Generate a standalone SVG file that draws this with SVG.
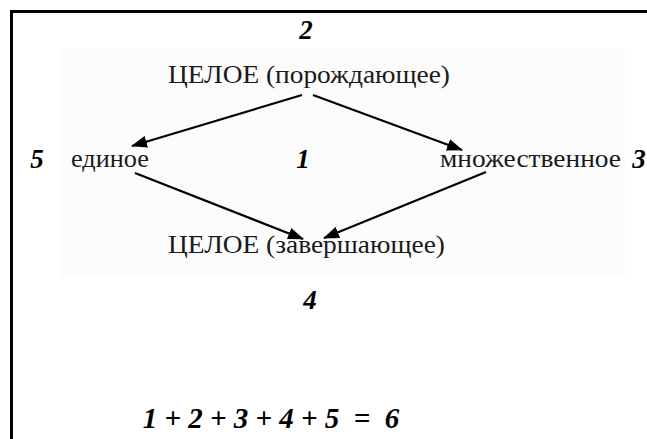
<svg xmlns="http://www.w3.org/2000/svg" width="647" height="439" viewBox="0 0 647 439">
<defs>
<marker id="ah" markerWidth="16" markerHeight="12" refX="15" refY="6" orient="auto" markerUnits="userSpaceOnUse"><path d="M0,0 L16,6 L0,12 Z" fill="#000"/></marker>
<style>
.lbl{font-family:"Liberation Serif",serif;font-size:25px;fill:#1a1a1a}
.num{font-family:"Liberation Serif",serif;font-size:27px;font-weight:bold;font-style:italic;fill:#000}
.eq{font-family:"Liberation Serif",serif;font-size:29px;font-weight:bold;font-style:italic;fill:#000}
.c{stroke:#000;stroke-width:2.2;fill:none;marker-end:url(#ah)}
</style>
</defs>
<rect width="647" height="439" fill="#fff"/>
<rect x="60" y="48" width="565" height="230" fill="#fcfcfc"/>
<path d="M11.5,439 V11.5 H647" stroke="#000" stroke-width="3" fill="none"/>
<g id="n2"><text class="num" x="306" y="39" text-anchor="middle">2</text></g>
<g id="top"><text class="lbl" x="168" y="83" textLength="282" lengthAdjust="spacingAndGlyphs">ЦЕЛОЕ (порождающее)</text></g>
<g id="n5"><text class="num" x="37" y="168" text-anchor="middle">5</text></g>
<g id="left"><text class="lbl" x="71" y="167" textLength="78" lengthAdjust="spacingAndGlyphs">единое</text></g>
<g id="n1"><text class="num" x="303" y="168" text-anchor="middle">1</text></g>
<g id="right"><text class="lbl" x="440" y="167" textLength="181" lengthAdjust="spacingAndGlyphs">множественное</text></g>
<g id="n3"><text class="num" x="639" y="168" text-anchor="middle">3</text></g>
<g id="bottom"><text class="lbl" x="168" y="253" textLength="277" lengthAdjust="spacingAndGlyphs">ЦЕЛОЕ (завершающее)</text></g>
<g id="n4"><text class="num" x="310" y="309" text-anchor="middle">4</text></g>
<g id="eq"><text class="eq" x="271" y="428" text-anchor="middle" xml:space="preserve">1 + 2 + 3 + 4 + 5  =  6</text></g>
<g id="connectors">
<line class="c" x1="302" y1="95" x2="132" y2="146"/>
<line class="c" x1="313" y1="95" x2="462" y2="150"/>
<line class="c" x1="135" y1="173" x2="303" y2="239"/>
<line class="c" x1="486" y1="172" x2="324" y2="238"/>
</g>
</svg>
